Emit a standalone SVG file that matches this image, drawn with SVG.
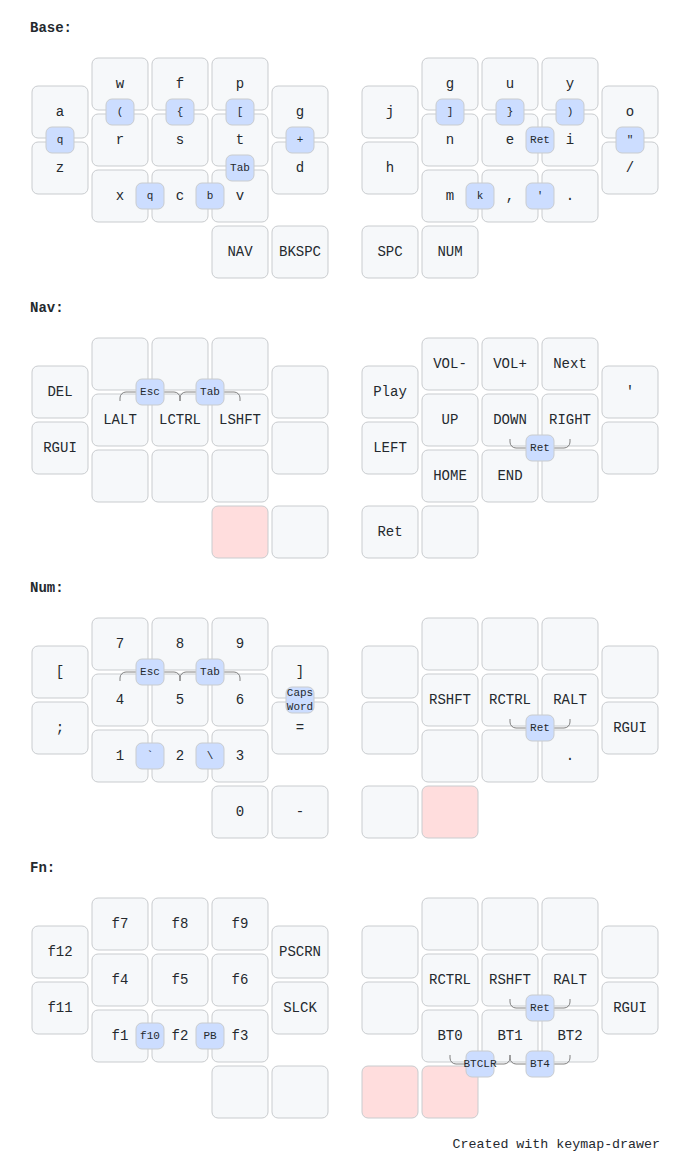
<svg xmlns="http://www.w3.org/2000/svg" width="690" height="1176" viewBox="0 0 690 1176" class="keymap">
<style>
svg.keymap { font-family: SFMono-Regular, Consolas, "Liberation Mono", Menlo, monospace; font-size: 14px; font-kerning: normal; text-rendering: optimizeLegibility; fill: #24292e; }
rect.key { fill: #f6f8fa; }
rect.key, rect.combo { stroke: #c9cccf; stroke-width: 1; }
rect.combo { fill: #cdf; }
rect.held { fill: #fdd; }
text { text-anchor: middle; dominant-baseline: middle; font-family: SFMono-Regular, Consolas, "Liberation Mono", Menlo, monospace; fill: #24292e; }
text.label { font-weight: bold; text-anchor: start; stroke: white; stroke-width: 2; paint-order: stroke; }
text.combo { font-size: 11px; }
path.combo { stroke-width: 1; stroke: gray; fill: none; }
text.footer { text-anchor: end; dominant-baseline: auto; font-size: 13.3px; }
</style>
<rect width="690" height="1176" fill="#ffffff"/>

<!-- ===== Base ===== -->
<g id="layer-base">
<text x="30" y="28" class="label">Base:</text>
<g id="base-k-a"><rect x="32" y="86" width="56" height="52" rx="6" class="key"/><text x="60" y="112">a</text></g>
<g id="base-k-z"><rect x="32" y="142" width="56" height="52" rx="6" class="key"/><text x="60" y="168">z</text></g>
<g id="base-k-w"><rect x="92" y="58" width="56" height="52" rx="6" class="key"/><text x="120" y="84">w</text></g>
<g id="base-k-f"><rect x="152" y="58" width="56" height="52" rx="6" class="key"/><text x="180" y="84">f</text></g>
<g id="base-k-p"><rect x="212" y="58" width="56" height="52" rx="6" class="key"/><text x="240" y="84">p</text></g>
<g id="base-k-r"><rect x="92" y="114" width="56" height="52" rx="6" class="key"/><text x="120" y="140">r</text></g>
<g id="base-k-s"><rect x="152" y="114" width="56" height="52" rx="6" class="key"/><text x="180" y="140">s</text></g>
<g id="base-k-t"><rect x="212" y="114" width="56" height="52" rx="6" class="key"/><text x="240" y="140">t</text></g>
<g id="base-k-x"><rect x="92" y="170" width="56" height="52" rx="6" class="key"/><text x="120" y="196">x</text></g>
<g id="base-k-c"><rect x="152" y="170" width="56" height="52" rx="6" class="key"/><text x="180" y="196">c</text></g>
<g id="base-k-v"><rect x="212" y="170" width="56" height="52" rx="6" class="key"/><text x="240" y="196">v</text></g>
<g id="base-k-g"><rect x="272" y="86" width="56" height="52" rx="6" class="key"/><text x="300" y="112">g</text></g>
<g id="base-k-d"><rect x="272" y="142" width="56" height="52" rx="6" class="key"/><text x="300" y="168">d</text></g>
<g id="base-k-nav"><rect x="212" y="226" width="56" height="52" rx="6" class="key"/><text x="240" y="252">NAV</text></g>
<g id="base-k-bkspc"><rect x="272" y="226" width="56" height="52" rx="6" class="key"/><text x="300" y="252">BKSPC</text></g>
<g id="base-k-j"><rect x="362" y="86" width="56" height="52" rx="6" class="key"/><text x="390" y="112">j</text></g>
<g id="base-k-h"><rect x="362" y="142" width="56" height="52" rx="6" class="key"/><text x="390" y="168">h</text></g>
<g id="base-k-g2"><rect x="422" y="58" width="56" height="52" rx="6" class="key"/><text x="450" y="84">g</text></g>
<g id="base-k-u"><rect x="482" y="58" width="56" height="52" rx="6" class="key"/><text x="510" y="84">u</text></g>
<g id="base-k-y"><rect x="542" y="58" width="56" height="52" rx="6" class="key"/><text x="570" y="84">y</text></g>
<g id="base-k-n"><rect x="422" y="114" width="56" height="52" rx="6" class="key"/><text x="450" y="140">n</text></g>
<g id="base-k-e"><rect x="482" y="114" width="56" height="52" rx="6" class="key"/><text x="510" y="140">e</text></g>
<g id="base-k-i"><rect x="542" y="114" width="56" height="52" rx="6" class="key"/><text x="570" y="140">i</text></g>
<g id="base-k-m"><rect x="422" y="170" width="56" height="52" rx="6" class="key"/><text x="450" y="196">m</text></g>
<g id="base-k-comma"><rect x="482" y="170" width="56" height="52" rx="6" class="key"/><text x="510" y="196">,</text></g>
<g id="base-k-dot"><rect x="542" y="170" width="56" height="52" rx="6" class="key"/><text x="570" y="196">.</text></g>
<g id="base-k-o"><rect x="602" y="86" width="56" height="52" rx="6" class="key"/><text x="630" y="112">o</text></g>
<g id="base-k-slash"><rect x="602" y="142" width="56" height="52" rx="6" class="key"/><text x="630" y="168">/</text></g>
<g id="base-k-spc"><rect x="362" y="226" width="56" height="52" rx="6" class="key"/><text x="390" y="252">SPC</text></g>
<g id="base-k-num"><rect x="422" y="226" width="56" height="52" rx="6" class="key"/><text x="450" y="252">NUM</text></g>
<g id="base-c-q1"><rect x="46" y="127" width="28" height="26" rx="6" class="combo"/><text x="60" y="140" class="combo">q</text></g>
<g id="base-c-lparen"><rect x="106" y="99" width="28" height="26" rx="6" class="combo"/><text x="120" y="112" class="combo">(</text></g>
<g id="base-c-lbrace"><rect x="166" y="99" width="28" height="26" rx="6" class="combo"/><text x="180" y="112" class="combo">{</text></g>
<g id="base-c-lbrack"><rect x="226" y="99" width="28" height="26" rx="6" class="combo"/><text x="240" y="112" class="combo">[</text></g>
<g id="base-c-plus"><rect x="286" y="127" width="28" height="26" rx="6" class="combo"/><text x="300" y="140" class="combo">+</text></g>
<g id="base-c-tab"><rect x="226" y="155" width="28" height="26" rx="6" class="combo"/><text x="240" y="168" class="combo">Tab</text></g>
<g id="base-c-q2"><rect x="136" y="183" width="28" height="26" rx="6" class="combo"/><text x="150" y="196" class="combo">q</text></g>
<g id="base-c-b"><rect x="196" y="183" width="28" height="26" rx="6" class="combo"/><text x="210" y="196" class="combo">b</text></g>
<g id="base-c-rbrack"><rect x="436" y="99" width="28" height="26" rx="6" class="combo"/><text x="450" y="112" class="combo">]</text></g>
<g id="base-c-rbrace"><rect x="496" y="99" width="28" height="26" rx="6" class="combo"/><text x="510" y="112" class="combo">}</text></g>
<g id="base-c-rparen"><rect x="556" y="99" width="28" height="26" rx="6" class="combo"/><text x="570" y="112" class="combo">)</text></g>
<g id="base-c-ret"><rect x="526" y="127" width="28" height="26" rx="6" class="combo"/><text x="540" y="140" class="combo">Ret</text></g>
<g id="base-c-dquote"><rect x="616" y="127" width="28" height="26" rx="6" class="combo"/><text x="630" y="140" class="combo">"</text></g>
<g id="base-c-k"><rect x="466" y="183" width="28" height="26" rx="6" class="combo"/><text x="480" y="196" class="combo">k</text></g>
<g id="base-c-squote"><rect x="526" y="183" width="28" height="26" rx="6" class="combo"/><text x="540" y="196" class="combo">'</text></g>
</g>

<!-- ===== Nav ===== -->
<g id="layer-nav">
<text x="30" y="308" class="label">Nav:</text>
<g id="nav-k-del"><rect x="32" y="366" width="56" height="52" rx="6" class="key"/><text x="60" y="392">DEL</text></g>
<g id="nav-k-rgui"><rect x="32" y="422" width="56" height="52" rx="6" class="key"/><text x="60" y="448">RGUI</text></g>
<g id="nav-k-l00"><rect x="92" y="338" width="56" height="52" rx="6" class="key"/></g>
<g id="nav-k-l01"><rect x="152" y="338" width="56" height="52" rx="6" class="key"/></g>
<g id="nav-k-l02"><rect x="212" y="338" width="56" height="52" rx="6" class="key"/></g>
<g id="nav-k-lalt"><rect x="92" y="394" width="56" height="52" rx="6" class="key"/><text x="120" y="420">LALT</text></g>
<g id="nav-k-lctrl"><rect x="152" y="394" width="56" height="52" rx="6" class="key"/><text x="180" y="420">LCTRL</text></g>
<g id="nav-k-lshft"><rect x="212" y="394" width="56" height="52" rx="6" class="key"/><text x="240" y="420">LSHFT</text></g>
<g id="nav-k-l20"><rect x="92" y="450" width="56" height="52" rx="6" class="key"/></g>
<g id="nav-k-l21"><rect x="152" y="450" width="56" height="52" rx="6" class="key"/></g>
<g id="nav-k-l22"><rect x="212" y="450" width="56" height="52" rx="6" class="key"/></g>
<g id="nav-k-l4a"><rect x="272" y="366" width="56" height="52" rx="6" class="key"/></g>
<g id="nav-k-l4b"><rect x="272" y="422" width="56" height="52" rx="6" class="key"/></g>
<g id="nav-k-lt1"><rect x="212" y="506" width="56" height="52" rx="6" class="key held"/></g>
<g id="nav-k-lt2"><rect x="272" y="506" width="56" height="52" rx="6" class="key"/></g>
<g id="nav-k-play"><rect x="362" y="366" width="56" height="52" rx="6" class="key"/><text x="390" y="392">Play</text></g>
<g id="nav-k-left"><rect x="362" y="422" width="56" height="52" rx="6" class="key"/><text x="390" y="448">LEFT</text></g>
<g id="nav-k-voldn"><rect x="422" y="338" width="56" height="52" rx="6" class="key"/><text x="450" y="364">VOL-</text></g>
<g id="nav-k-volup"><rect x="482" y="338" width="56" height="52" rx="6" class="key"/><text x="510" y="364">VOL+</text></g>
<g id="nav-k-next"><rect x="542" y="338" width="56" height="52" rx="6" class="key"/><text x="570" y="364">Next</text></g>
<g id="nav-k-up"><rect x="422" y="394" width="56" height="52" rx="6" class="key"/><text x="450" y="420">UP</text></g>
<g id="nav-k-down"><rect x="482" y="394" width="56" height="52" rx="6" class="key"/><text x="510" y="420">DOWN</text></g>
<g id="nav-k-right"><rect x="542" y="394" width="56" height="52" rx="6" class="key"/><text x="570" y="420">RIGHT</text></g>
<g id="nav-k-home"><rect x="422" y="450" width="56" height="52" rx="6" class="key"/><text x="450" y="476">HOME</text></g>
<g id="nav-k-end"><rect x="482" y="450" width="56" height="52" rx="6" class="key"/><text x="510" y="476">END</text></g>
<g id="nav-k-r22"><rect x="542" y="450" width="56" height="52" rx="6" class="key"/></g>
<g id="nav-k-squote"><rect x="602" y="366" width="56" height="52" rx="6" class="key"/><text x="630" y="392">'</text></g>
<g id="nav-k-r4b"><rect x="602" y="422" width="56" height="52" rx="6" class="key"/></g>
<g id="nav-k-ret"><rect x="362" y="506" width="56" height="52" rx="6" class="key"/><text x="390" y="532">Ret</text></g>
<g id="nav-k-rt2"><rect x="422" y="506" width="56" height="52" rx="6" class="key"/></g>
</g>

<!-- ===== Num ===== -->
<g id="layer-num">
<text x="30" y="588" class="label">Num:</text>
<g id="num-k-lbrack"><rect x="32" y="646" width="56" height="52" rx="6" class="key"/><text x="60" y="672">[</text></g>
<g id="num-k-semi"><rect x="32" y="702" width="56" height="52" rx="6" class="key"/><text x="60" y="728">;</text></g>
<g id="num-k-7"><rect x="92" y="618" width="56" height="52" rx="6" class="key"/><text x="120" y="644">7</text></g>
<g id="num-k-8"><rect x="152" y="618" width="56" height="52" rx="6" class="key"/><text x="180" y="644">8</text></g>
<g id="num-k-9"><rect x="212" y="618" width="56" height="52" rx="6" class="key"/><text x="240" y="644">9</text></g>
<g id="num-k-4"><rect x="92" y="674" width="56" height="52" rx="6" class="key"/><text x="120" y="700">4</text></g>
<g id="num-k-5"><rect x="152" y="674" width="56" height="52" rx="6" class="key"/><text x="180" y="700">5</text></g>
<g id="num-k-6"><rect x="212" y="674" width="56" height="52" rx="6" class="key"/><text x="240" y="700">6</text></g>
<g id="num-k-1"><rect x="92" y="730" width="56" height="52" rx="6" class="key"/><text x="120" y="756">1</text></g>
<g id="num-k-2"><rect x="152" y="730" width="56" height="52" rx="6" class="key"/><text x="180" y="756">2</text></g>
<g id="num-k-3"><rect x="212" y="730" width="56" height="52" rx="6" class="key"/><text x="240" y="756">3</text></g>
<g id="num-k-rbrack"><rect x="272" y="646" width="56" height="52" rx="6" class="key"/><text x="300" y="672">]</text></g>
<g id="num-k-eq"><rect x="272" y="702" width="56" height="52" rx="6" class="key"/><text x="300" y="728">=</text></g>
<g id="num-k-0"><rect x="212" y="786" width="56" height="52" rx="6" class="key"/><text x="240" y="812">0</text></g>
<g id="num-k-minus"><rect x="272" y="786" width="56" height="52" rx="6" class="key"/><text x="300" y="812">-</text></g>
<g id="num-k-r0a"><rect x="362" y="646" width="56" height="52" rx="6" class="key"/></g>
<g id="num-k-r0b"><rect x="362" y="702" width="56" height="52" rx="6" class="key"/></g>
<g id="num-k-r10"><rect x="422" y="618" width="56" height="52" rx="6" class="key"/></g>
<g id="num-k-r11"><rect x="482" y="618" width="56" height="52" rx="6" class="key"/></g>
<g id="num-k-r12"><rect x="542" y="618" width="56" height="52" rx="6" class="key"/></g>
<g id="num-k-rshft"><rect x="422" y="674" width="56" height="52" rx="6" class="key"/><text x="450" y="700">RSHFT</text></g>
<g id="num-k-rctrl"><rect x="482" y="674" width="56" height="52" rx="6" class="key"/><text x="510" y="700">RCTRL</text></g>
<g id="num-k-ralt"><rect x="542" y="674" width="56" height="52" rx="6" class="key"/><text x="570" y="700">RALT</text></g>
<g id="num-k-r30"><rect x="422" y="730" width="56" height="52" rx="6" class="key"/></g>
<g id="num-k-r31"><rect x="482" y="730" width="56" height="52" rx="6" class="key"/></g>
<g id="num-k-dot"><rect x="542" y="730" width="56" height="52" rx="6" class="key"/><text x="570" y="756">.</text></g>
<g id="num-k-r4a"><rect x="602" y="646" width="56" height="52" rx="6" class="key"/></g>
<g id="num-k-rgui"><rect x="602" y="702" width="56" height="52" rx="6" class="key"/><text x="630" y="728">RGUI</text></g>
<g id="num-k-rt1"><rect x="362" y="786" width="56" height="52" rx="6" class="key"/></g>
<g id="num-k-rt2"><rect x="422" y="786" width="56" height="52" rx="6" class="key held"/></g>
</g>

<!-- ===== Fn ===== -->
<g id="layer-fn">
<text x="30" y="868" class="label">Fn:</text>
<g id="fn-k-f12"><rect x="32" y="926" width="56" height="52" rx="6" class="key"/><text x="60" y="952">f12</text></g>
<g id="fn-k-f11"><rect x="32" y="982" width="56" height="52" rx="6" class="key"/><text x="60" y="1008">f11</text></g>
<g id="fn-k-f7"><rect x="92" y="898" width="56" height="52" rx="6" class="key"/><text x="120" y="924">f7</text></g>
<g id="fn-k-f8"><rect x="152" y="898" width="56" height="52" rx="6" class="key"/><text x="180" y="924">f8</text></g>
<g id="fn-k-f9"><rect x="212" y="898" width="56" height="52" rx="6" class="key"/><text x="240" y="924">f9</text></g>
<g id="fn-k-f4"><rect x="92" y="954" width="56" height="52" rx="6" class="key"/><text x="120" y="980">f4</text></g>
<g id="fn-k-f5"><rect x="152" y="954" width="56" height="52" rx="6" class="key"/><text x="180" y="980">f5</text></g>
<g id="fn-k-f6"><rect x="212" y="954" width="56" height="52" rx="6" class="key"/><text x="240" y="980">f6</text></g>
<g id="fn-k-f1"><rect x="92" y="1010" width="56" height="52" rx="6" class="key"/><text x="120" y="1036">f1</text></g>
<g id="fn-k-f2"><rect x="152" y="1010" width="56" height="52" rx="6" class="key"/><text x="180" y="1036">f2</text></g>
<g id="fn-k-f3"><rect x="212" y="1010" width="56" height="52" rx="6" class="key"/><text x="240" y="1036">f3</text></g>
<g id="fn-k-pscrn"><rect x="272" y="926" width="56" height="52" rx="6" class="key"/><text x="300" y="952">PSCRN</text></g>
<g id="fn-k-slck"><rect x="272" y="982" width="56" height="52" rx="6" class="key"/><text x="300" y="1008">SLCK</text></g>
<g id="fn-k-lt1"><rect x="212" y="1066" width="56" height="52" rx="6" class="key"/></g>
<g id="fn-k-lt2"><rect x="272" y="1066" width="56" height="52" rx="6" class="key"/></g>
<g id="fn-k-r0a"><rect x="362" y="926" width="56" height="52" rx="6" class="key"/></g>
<g id="fn-k-r0b"><rect x="362" y="982" width="56" height="52" rx="6" class="key"/></g>
<g id="fn-k-r10"><rect x="422" y="898" width="56" height="52" rx="6" class="key"/></g>
<g id="fn-k-r11"><rect x="482" y="898" width="56" height="52" rx="6" class="key"/></g>
<g id="fn-k-r12"><rect x="542" y="898" width="56" height="52" rx="6" class="key"/></g>
<g id="fn-k-rctrl"><rect x="422" y="954" width="56" height="52" rx="6" class="key"/><text x="450" y="980">RCTRL</text></g>
<g id="fn-k-rshft"><rect x="482" y="954" width="56" height="52" rx="6" class="key"/><text x="510" y="980">RSHFT</text></g>
<g id="fn-k-ralt"><rect x="542" y="954" width="56" height="52" rx="6" class="key"/><text x="570" y="980">RALT</text></g>
<g id="fn-k-bt0"><rect x="422" y="1010" width="56" height="52" rx="6" class="key"/><text x="450" y="1036">BT0</text></g>
<g id="fn-k-bt1"><rect x="482" y="1010" width="56" height="52" rx="6" class="key"/><text x="510" y="1036">BT1</text></g>
<g id="fn-k-bt2"><rect x="542" y="1010" width="56" height="52" rx="6" class="key"/><text x="570" y="1036">BT2</text></g>
<g id="fn-k-r4a"><rect x="602" y="926" width="56" height="52" rx="6" class="key"/></g>
<g id="fn-k-rgui"><rect x="602" y="982" width="56" height="52" rx="6" class="key"/><text x="630" y="1008">RGUI</text></g>
<g id="fn-k-rt1"><rect x="362" y="1066" width="56" height="52" rx="6" class="key held"/></g>
<g id="fn-k-rt2"><rect x="422" y="1066" width="56" height="52" rx="6" class="key held"/></g>
</g>

<!-- ===== Connectors (combo dendrons) ===== -->
<g id="connectors">
<path d="M150,392 h-24 a6,6 0 0 0 -6,6 v3" class="combo"/>
<path d="M150,392 h24 a6,6 0 0 1 6,6 v3" class="combo"/>
<path d="M210,392 h-24 a6,6 0 0 0 -6,6 v3" class="combo"/>
<path d="M210,392 h24 a6,6 0 0 1 6,6 v3" class="combo"/>
<path d="M540,448 h-24 a6,6 0 0 1 -6,-6 v-3" class="combo"/>
<path d="M540,448 h24 a6,6 0 0 0 6,-6 v-3" class="combo"/>
<path d="M150,672 h-24 a6,6 0 0 0 -6,6 v3" class="combo"/>
<path d="M150,672 h24 a6,6 0 0 1 6,6 v3" class="combo"/>
<path d="M210,672 h-24 a6,6 0 0 0 -6,6 v3" class="combo"/>
<path d="M210,672 h24 a6,6 0 0 1 6,6 v3" class="combo"/>
<path d="M540,728 h-24 a6,6 0 0 1 -6,-6 v-3" class="combo"/>
<path d="M540,728 h24 a6,6 0 0 0 6,-6 v-3" class="combo"/>
<path d="M540,1008 h-24 a6,6 0 0 1 -6,-6 v-3" class="combo"/>
<path d="M540,1008 h24 a6,6 0 0 0 6,-6 v-3" class="combo"/>
<path d="M480,1064 h-24 a6,6 0 0 1 -6,-6 v-3" class="combo"/>
<path d="M480,1064 h24 a6,6 0 0 0 6,-6 v-3" class="combo"/>
<path d="M540,1064 h-24 a6,6 0 0 1 -6,-6 v-3" class="combo"/>
<path d="M540,1064 h24 a6,6 0 0 0 6,-6 v-3" class="combo"/>
</g>

<!-- ===== Combo boxes with dendrons ===== -->
<g id="nav-c-esc"><rect x="136" y="379" width="28" height="26" rx="6" class="combo"/><text x="150" y="392" class="combo">Esc</text></g>
<g id="nav-c-tab"><rect x="196" y="379" width="28" height="26" rx="6" class="combo"/><text x="210" y="392" class="combo">Tab</text></g>
<g id="nav-c-ret"><rect x="526" y="435" width="28" height="26" rx="6" class="combo"/><text x="540" y="448" class="combo">Ret</text></g>
<g id="num-c-esc"><rect x="136" y="659" width="28" height="26" rx="6" class="combo"/><text x="150" y="672" class="combo">Esc</text></g>
<g id="num-c-tab"><rect x="196" y="659" width="28" height="26" rx="6" class="combo"/><text x="210" y="672" class="combo">Tab</text></g>
<g id="num-c-capsword"><rect x="286" y="687" width="28" height="26" rx="6" class="combo"/><text x="300" y="700" class="combo"><tspan x="300" dy="-0.6em">Caps</tspan><tspan x="300" dy="1.2em">Word</tspan></text></g>
<g id="num-c-grave"><rect x="136" y="743" width="28" height="26" rx="6" class="combo"/><text x="150" y="756" class="combo">`</text></g>
<g id="num-c-bslash"><rect x="196" y="743" width="28" height="26" rx="6" class="combo"/><text x="210" y="756" class="combo">\</text></g>
<g id="num-c-ret"><rect x="526" y="715" width="28" height="26" rx="6" class="combo"/><text x="540" y="728" class="combo">Ret</text></g>
<g id="fn-c-f10"><rect x="136" y="1023" width="28" height="26" rx="6" class="combo"/><text x="150" y="1036" class="combo">f10</text></g>
<g id="fn-c-pb"><rect x="196" y="1023" width="28" height="26" rx="6" class="combo"/><text x="210" y="1036" class="combo">PB</text></g>
<g id="fn-c-ret"><rect x="526" y="995" width="28" height="26" rx="6" class="combo"/><text x="540" y="1008" class="combo">Ret</text></g>
<g id="fn-c-btclr"><rect x="466" y="1051" width="28" height="26" rx="6" class="combo"/><text x="480" y="1064" class="combo">BTCLR</text></g>
<g id="fn-c-bt4"><rect x="526" y="1051" width="28" height="26" rx="6" class="combo"/><text x="540" y="1064" class="combo">BT4</text></g>

<text x="660" y="1148" class="footer">Created with keymap-drawer</text>
</svg>
